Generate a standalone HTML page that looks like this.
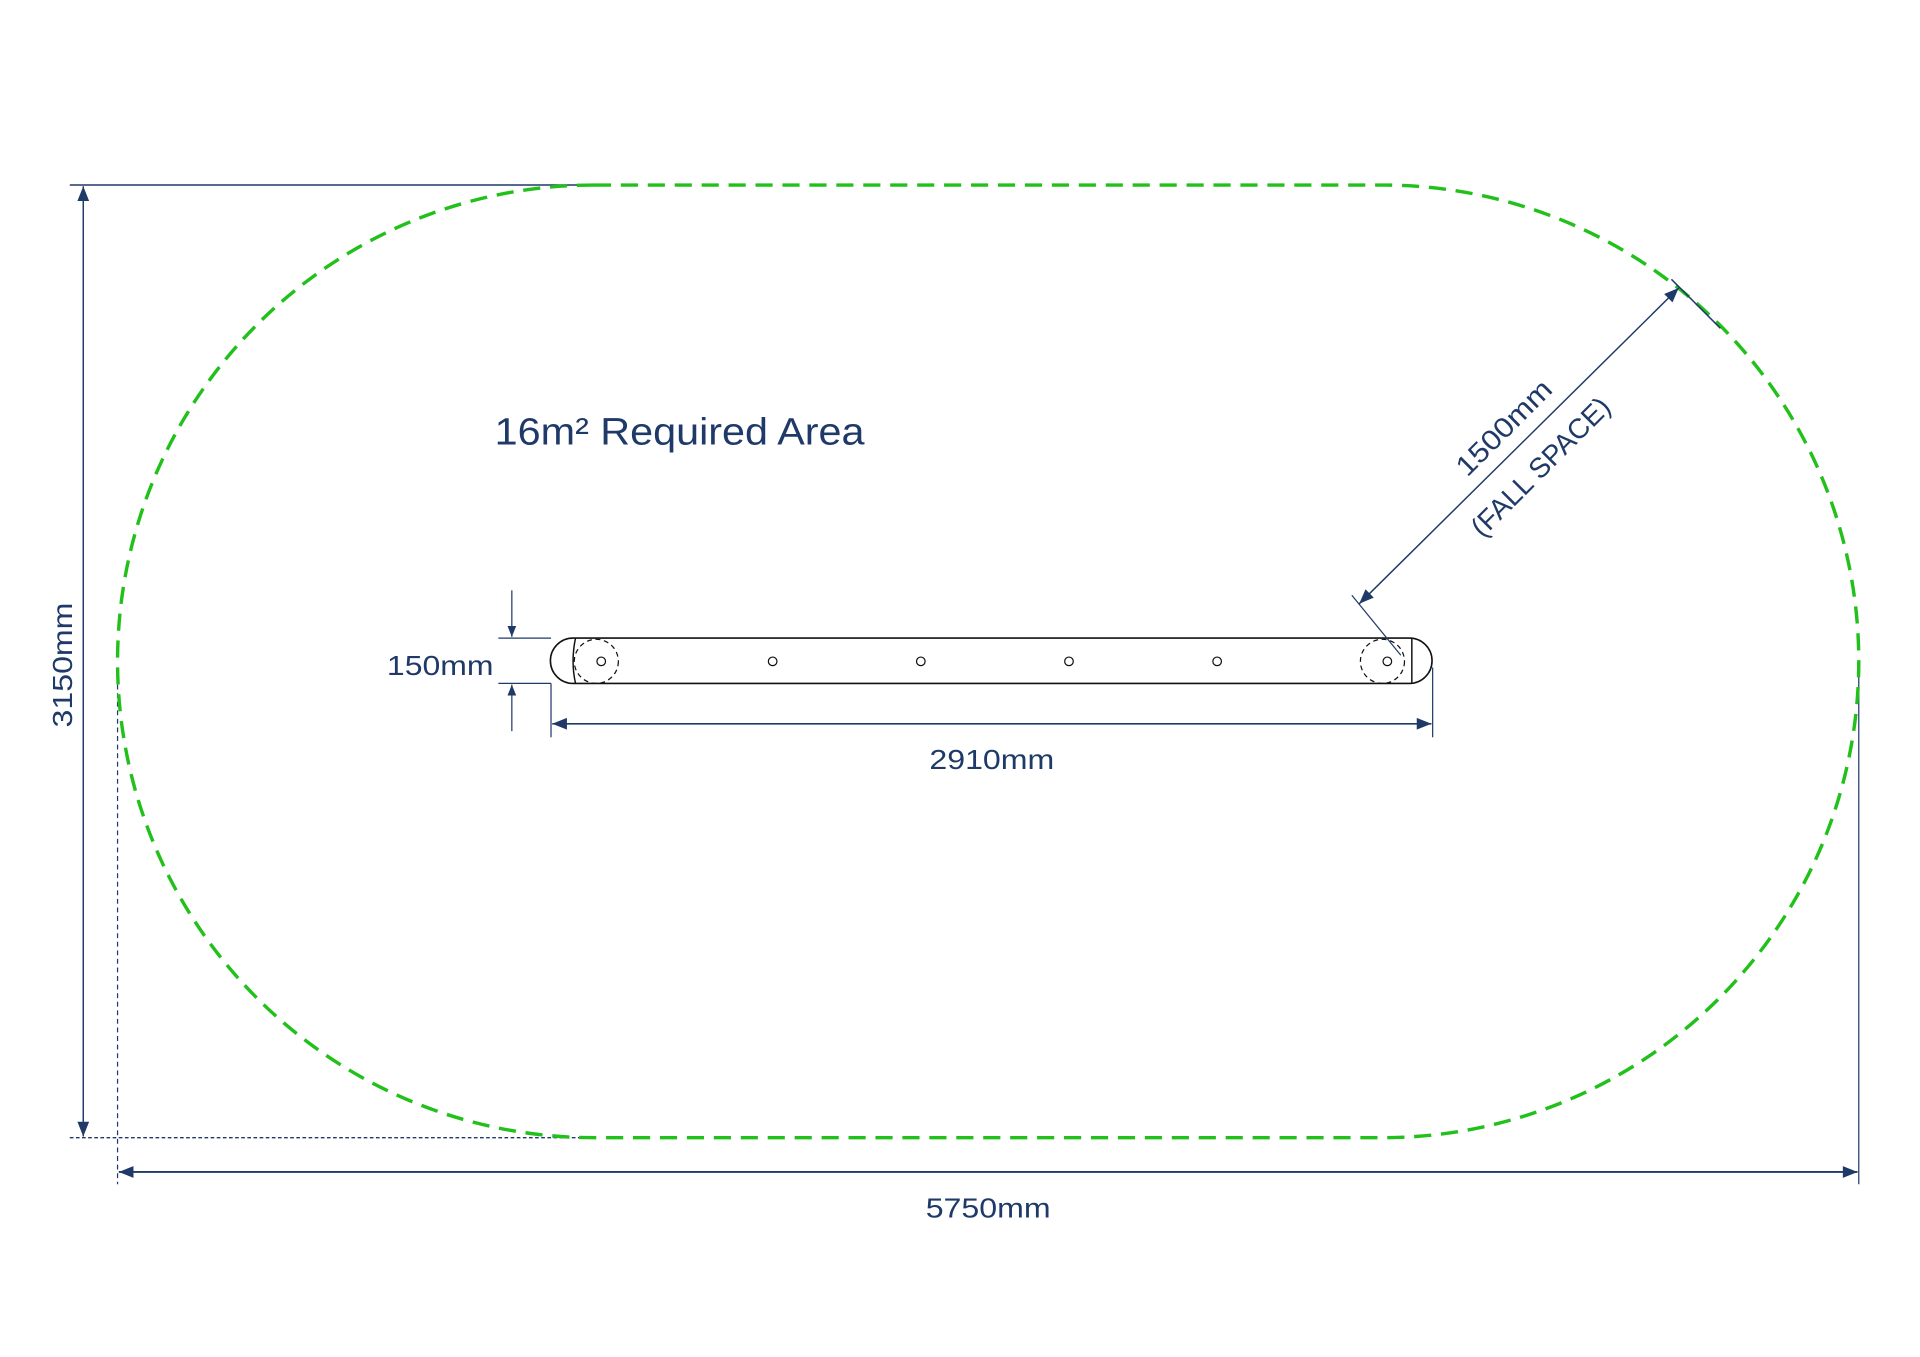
<!DOCTYPE html>
<html><head><meta charset="utf-8"><style>
html,body{margin:0;padding:0;background:#fff;}
svg{display:block;}
text{font-family:"Liberation Sans Narrow","Liberation Sans",sans-serif;fill:#1f3a68;}
</style></head><body>
<svg width="1920" height="1357" viewBox="0 0 1568 1108" xmlns="http://www.w3.org/2000/svg">
<defs>
<marker id="a" viewBox="0 0 10 10" refX="10" refY="5" markerWidth="9" markerHeight="9" markerUnits="userSpaceOnUse" orient="auto-start-reverse">
<path d="M0,1 L10,5 L0,9 z" fill="#1f3a68"/></marker>
<marker id="b" viewBox="0 0 10 10" refX="10" refY="5" markerWidth="16" markerHeight="12" markerUnits="userSpaceOnUse" orient="auto-start-reverse">
<path d="M0,1 L10,5 L0,9 z" fill="#1f3a68"/></marker>
</defs>
<rect width="1568" height="1108" fill="#fff"/>
<line x1="57" y1="151" x2="485" y2="151" stroke="#1f3a68" stroke-width="1.2"/>
<line x1="57" y1="929" x2="485" y2="929" stroke="#1f3a68" stroke-width="1.2" stroke-dasharray="3,2"/>
<line x1="96" y1="545" x2="96" y2="967" stroke="#1f3a68" stroke-width="1" stroke-dasharray="4,3"/>
<line x1="1518" y1="540" x2="1518" y2="967" stroke="#1f3a68" stroke-width="1"/>
<line x1="68" y1="152" x2="68" y2="928" stroke="#1f3a68" stroke-width="1.2" marker-start="url(#b)" marker-end="url(#b)"/>
<text x="51" y="543" font-size="23" text-anchor="middle" textLength="102" lengthAdjust="spacingAndGlyphs" transform="rotate(-90 51 543)" dy="8">3150mm</text>
<line x1="97" y1="957" x2="1517" y2="957" stroke="#1f3a68" stroke-width="1.5" marker-start="url(#b)" marker-end="url(#b)"/>
<text x="807" y="994" font-size="23" text-anchor="middle" textLength="102" lengthAdjust="spacingAndGlyphs">5750mm</text>
<path d="M485,151 L1129,151 A389,389 0 0 1 1129,929 L485,929 A389,389 0 0 1 485,151 Z" fill="none" stroke="#22c01a" stroke-width="2.8" stroke-dasharray="14,8"/>
<text x="404" y="363" font-size="31" textLength="302" lengthAdjust="spacingAndGlyphs">16m² Required Area</text>
<path d="M468,521 L1151,521 A18.5,18.5 0 0 1 1151,558 L468,558 A18.5,18.5 0 0 1 468,521 Z" fill="none" stroke="#111" stroke-width="1.3"/>
<path d="M470,521 Q466,540 470,558" fill="none" stroke="#111" stroke-width="1.2"/>
<line x1="1153" y1="521" x2="1153" y2="558" stroke="#111" stroke-width="1.2"/>
<circle cx="487" cy="540" r="18" fill="none" stroke="#111" stroke-width="1" stroke-dasharray="4,3"/>
<circle cx="1129" cy="540" r="18" fill="none" stroke="#111" stroke-width="1" stroke-dasharray="4,3"/>
<g fill="none" stroke="#111" stroke-width="1"><circle cx="491" cy="540" r="3.5"/><circle cx="631" cy="540" r="3.5"/><circle cx="752" cy="540" r="3.5"/><circle cx="873" cy="540" r="3.5"/><circle cx="994" cy="540" r="3.5"/><circle cx="1133" cy="540" r="3.5"/></g>
<line x1="407" y1="521" x2="450" y2="521" stroke="#1f3a68" stroke-width="1"/>
<line x1="407" y1="558" x2="450" y2="558" stroke="#1f3a68" stroke-width="1"/>
<line x1="418" y1="482" x2="418" y2="520" stroke="#1f3a68" stroke-width="1" marker-end="url(#a)"/>
<line x1="418" y1="597" x2="418" y2="559" stroke="#1f3a68" stroke-width="1" marker-end="url(#a)"/>
<text x="403" y="551" font-size="23" text-anchor="end" textLength="87" lengthAdjust="spacingAndGlyphs">150mm</text>
<line x1="450" y1="558" x2="450" y2="602" stroke="#1f3a68" stroke-width="1"/>
<line x1="1170" y1="545" x2="1170" y2="602" stroke="#1f3a68" stroke-width="1"/>
<line x1="451" y1="591" x2="1169" y2="591" stroke="#1f3a68" stroke-width="1.3" marker-start="url(#b)" marker-end="url(#b)"/>
<text x="810" y="628" font-size="23" text-anchor="middle" textLength="102" lengthAdjust="spacingAndGlyphs">2910mm</text>
<line x1="1104" y1="486" x2="1144" y2="535" stroke="#1f3a68" stroke-width="1"/>
<line x1="1365" y1="228" x2="1405" y2="268" stroke="#1f3a68" stroke-width="1.2"/>
<line x1="1110" y1="493" x2="1371" y2="235" stroke="#1f3a68" stroke-width="1.2" marker-start="url(#b)" marker-end="url(#b)"/>
<text x="1228" y="357" font-size="23" text-anchor="middle" textLength="100" lengthAdjust="spacingAndGlyphs" transform="rotate(-45 1228 349)">1500mm</text>
<text x="1258" y="389" font-size="23" text-anchor="middle" textLength="150" lengthAdjust="spacingAndGlyphs" transform="rotate(-45 1258 381)">(FALL SPACE)</text>
</svg>
</body></html>
